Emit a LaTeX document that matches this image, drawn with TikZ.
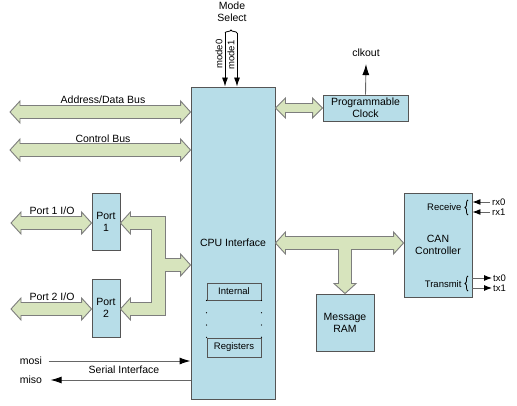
\documentclass[tikz,border=0pt]{standalone}
\usepackage{fontspec}
\setmainfont{Liberation Sans}
\usetikzlibrary{arrows.meta,calc,decorations.pathreplacing}

\definecolor{boxblue}{RGB}{183,221,232}
\definecolor{boxedge}{RGB}{85,85,85}
\definecolor{busgreen}{RGB}{215,228,189}
\definecolor{busedge}{RGB}{125,125,125}

% horizontal double-headed bus: left tip, right tip, shaft half width, head half width
\newcommand{\hbus}[4]{%
  \filldraw[bus] let \p1=(#1), \p2=(#2) in (\p1) -- (\x1+10pt,\y1+#4) -- (\x1+10pt,\y1+#3) -- (\x2-10pt,\y1+#3) -- (\x2-10pt,\y1+#4) -- (\x2,\y1) -- (\x2-10pt,\y1-#4) -- (\x2-10pt,\y1-#3) -- (\x1+10pt,\y1-#3) -- (\x1+10pt,\y1-#4) -- cycle;}

\begin{document}
\begin{tikzpicture}[x=1pt,y=-1pt,
    every node/.style={font=\fontsize{10.5}{12}\selectfont},
    smalltxt/.style={font=\fontsize{9.5}{11}\selectfont},
    block/.style={draw=boxedge,fill=boxblue,line width=0.9pt,inner sep=0pt,align=center},
    bus/.style={draw=busedge,fill=busgreen,line width=0.9pt},
    sig/.style={draw=black!60,line width=0.9pt,-{Latex[black,length=11pt,width=7pt]}},
    sigsmall/.style={draw=black!60,line width=0.9pt,-{Latex[black,length=8pt,width=6pt]}},
    modesig/.style={draw=black,line width=0.9pt,-{Latex[length=9pt,width=6pt]}},
    capbrace/.style={decorate,decoration={brace,amplitude=3pt},line width=0.8pt},
    regdots/.style={line width=1.3pt,line cap=round,dash pattern=on 0pt off 12.3pt}]
  \useasboundingbox (0,0) rectangle (517,406);

  % blocks
  \node[block,minimum width=84pt,minimum height=312pt] (cpu) at (233,243) {CPU Interface};
  \node[block,minimum width=85pt,minimum height=26pt] (clock) at (365.5,108) {Programmable\\Clock};
  \node[block,minimum width=28pt,minimum height=57pt] (port1) at (106,221.5) {Port\\1};
  \node[block,minimum width=28pt,minimum height=58pt] (port2) at (106,308) {Port\\2};
  \node[block,minimum width=58pt,minimum height=57pt] (ram) at (345,322.5) {Message\\RAM};
  \node[block,minimum width=68pt,minimum height=104pt] (can) at (438,245) {CAN\\Controller};
  \node[block,smalltxt,minimum width=54pt,minimum height=17pt] (internal) at (234,291.5) {Internal};
  \node[block,smalltxt,minimum width=54pt,minimum height=19pt] (registers) at (234,347.5) {Registers};
  \draw[regdots] (internal.south west) -- (registers.north west);
  \draw[regdots] (internal.south east) -- (registers.north east);

  % buses on the left
  \coordinate (adbus) at (10,112);
  \coordinate (ctbus) at (10,150);
  \coordinate (p1io) at (11,223);
  \coordinate (p2io) at (11,309);
  \hbus{adbus}{adbus -| cpu.west}{6.5pt}{11pt}
  \hbus{ctbus}{ctbus -| cpu.west}{6.5pt}{11pt}
  \hbus{p1io}{p1io -| port1.west}{6.5pt}{11pt}
  \hbus{p2io}{p2io -| port2.west}{6.5pt}{11pt}
  \node (adlabel) at (103,100) {Address/Data Bus};
  \node (ctlabel) at (103,139) {Control Bus};
  \node (p1label) at (52,211) {Port 1 I/O};
  \node (p2label) at (52,297) {Port 2 I/O};

  % ports to cpu
  \coordinate (portjoin) at (cpu.west |- 0,265);
  \filldraw[bus] let \p1=(p1io -| port1.east), \p2=(p2io -| port2.east), \p3=(portjoin) in
    (\p1) -- (\x1+10pt,\y1+11pt) -- (\x1+10pt,\y1+6.5pt) -- (\x1+45pt,\y1+6.5pt) -- (\x1+45pt,\y3+6.5pt)
    -- (\x3-10pt,\y3+6.5pt) -- (\x3-10pt,\y3+11pt) -- (\p3) -- (\x3-10pt,\y3-11pt) -- (\x3-10pt,\y3-6.5pt)
    -- (\x1+45pt,\y3-6.5pt) -- (\x1+45pt,\y2-6.5pt) -- (\x2+10pt,\y2-6.5pt) -- (\x2+10pt,\y2-11pt) -- (\p2)
    -- (\x2+10pt,\y2+11pt) -- (\x2+10pt,\y2+6.5pt) -- (\x1+31pt,\y2+6.5pt) -- (\x1+31pt,\y1-6.5pt)
    -- (\x1+10pt,\y1-6.5pt) -- (\x1+10pt,\y1-11pt) -- cycle;

  % clock
  \hbus{cpu.east |- clock.west}{clock.west}{4.5pt}{10pt}
  \node[inner ysep=7pt] (clkout) at (366,53) {clkout};
  \draw[sig] (clock.north) -- (clkout.south);

  % cpu to can and ram
  \filldraw[bus] let \p1=(cpu.east), \p2=(can.west |- cpu.east), \p3=(ram.north) in
    (\p1) -- (\x1+10pt,\y1+11pt) -- (\x1+10pt,\y1+6.5pt) -- (\x2-10pt,\y1+6.5pt) -- (\x2-10pt,\y1+11pt)
    -- (\x2,\y1) -- (\x2-10pt,\y1-11pt) -- (\x2-10pt,\y1-6.5pt) -- (\x3+6.5pt,\y1-6.5pt) -- (\x3+6.5pt,\y3+10pt)
    -- (\x3+11pt,\y3+10pt) -- (\p3) -- (\x3-11pt,\y3+10pt) -- (\x3-6.5pt,\y3+10pt) -- (\x3-6.5pt,\y1-6.5pt)
    -- (\x1+10pt,\y1-6.5pt) -- (\x1+10pt,\y1-11pt) -- cycle;

  % mode select
  \node[align=center] (modesel) at (232,12) {Mode\\Select};
  \coordinate (m0top) at (225,33);
  \coordinate (m1top) at (237,33);
  \draw[capbrace] (m0top) -- (m1top);
  \draw[modesig] (m0top) -- (m0top |- cpu.north);
  \draw[modesig] (m1top) -- (m1top |- cpu.north);
  \node[smalltxt,rotate=90] (mode0) at (219,54) {mode0};
  \node[smalltxt,rotate=90] (mode1) at (231,55) {mode1};

  % can signals
  \node[smalltxt,anchor=east] (receive) at (465,207) {Receive};
  \node[smalltxt,anchor=east] (transmit) at (465,284) {Transmit};
  \draw[capbrace] (468,215) -- (468,200);
  \draw[capbrace] (468,291) -- (468,276);
  \coordinate (rx0) at (490,202);
  \coordinate (rx1) at (490,212);
  \coordinate (tx0) at (492,278);
  \coordinate (tx1) at (492,288);
  \draw[sigsmall] (rx0) -- (rx0 -| can.east);
  \draw[sigsmall] (rx1) -- (rx1 -| can.east);
  \draw[sigsmall] (tx0 -| can.east) -- (tx0);
  \draw[sigsmall] (tx1 -| can.east) -- (tx1);
  \node[smalltxt,anchor=west,inner sep=2pt] (rx0label) at (rx0) {rx0};
  \node[smalltxt,anchor=west,inner sep=2pt] (rx1label) at (rx1) {rx1};
  \node[smalltxt,anchor=west,inner sep=1pt] (tx0label) at (tx0) {tx0};
  \node[smalltxt,anchor=west,inner sep=1pt] (tx1label) at (tx1) {tx1};

  % serial interface
  \node (mosi) at (31,361) {mosi};
  \node (miso) at (31,380) {miso};
  \draw[sig] ([xshift=3pt]mosi.east) -- (mosi.east -| cpu.west);
  \draw[sig] (miso.east -| cpu.west) -- ([xshift=5pt]miso.east);
  \node (serial) at (124,370) {Serial Interface};
\end{tikzpicture}
\end{document}
